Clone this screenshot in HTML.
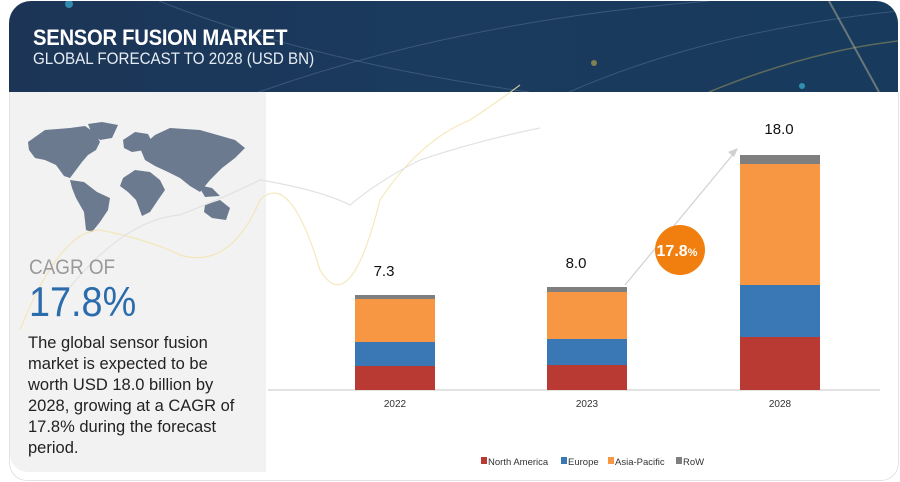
<!DOCTYPE html>
<html><head><meta charset="utf-8"><style>
body{margin:0;width:900px;height:482px;background:#fff;position:relative;overflow:hidden;font-family:"Liberation Sans",sans-serif}
.a{position:absolute}
</style></head><body>
<div class="a" style="left:9px;top:1px;width:889px;height:91px;border-radius:22px 22px 0 0;background:linear-gradient(90deg,#1c3556 0%,#1a3a5e 45%,#183a5c 100%);overflow:hidden">
<svg width="889" height="91" style="position:absolute;left:0;top:0">
<path d="M150 0 Q300 60 520 91" stroke="#5c7896" stroke-width="1" fill="none" opacity=".5"/>
<path d="M250 91 Q450 20 700 0" stroke="#6d88a4" stroke-width="1" fill="none" opacity=".4"/>
<path d="M560 91 Q700 30 889 10" stroke="#6d88a4" stroke-width="1" fill="none" opacity=".4"/>
<path d="M820 0 L870 91" stroke="#b6b49a" stroke-width="2" opacity=".5"/>
<path d="M700 91 Q800 50 889 40" stroke="#c8b560" stroke-width="1.5" fill="none" opacity=".4"/>
<circle cx="60" cy="3" r="4" fill="#3fc6e8" opacity=".6"/>
<circle cx="585" cy="62" r="3" fill="#e5c84a" opacity=".5"/>
<circle cx="793" cy="85" r="3" fill="#3fc6e8" opacity=".6"/>
</svg>
<div class="a" style="left:24px;top:24px;color:#fff;font-size:22px;font-weight:bold;letter-spacing:-0.3px;transform:scaleX(.92);transform-origin:left">SENSOR FUSION MARKET</div>
<div class="a" style="left:24px;top:49px;color:#e6ecf3;font-size:16.5px;transform:scaleX(.92);transform-origin:left">GLOBAL FORECAST TO 2028 (USD BN)</div>
</div>
<div class="a" style="left:9px;top:92px;width:888px;height:388px;border:1px solid #e3e3e3;border-top:none;border-radius:0 0 18px 18px"></div>
<div class="a" style="left:10px;top:92px;width:256px;height:380px;background:#f2f2f2;border-radius:0 0 0 18px"></div>
<svg class="a" style="left:0;top:0" width="900" height="482">
<g fill="#6b7a8f">
<path d="M28 142 L45 130 L70 128 L85 126 L95 133 L100 142 L96 150 L88 155 L82 162 L76 170 L70 178 L64 176 L56 165 L45 160 L35 158 L29 150Z"/>
<path d="M88 124 L102 122 L118 125 L112 138 L100 140 L92 134Z"/>
<path d="M70 180 L84 182 L97 192 L110 198 L108 210 L100 222 L92 232 L86 230 L84 212 L76 198 L72 188Z"/>
<path d="M123 140 L135 132 L148 134 L152 142 L145 150 L132 152 L124 148Z"/>
<path d="M123 178 L135 170 L150 172 L160 180 L165 190 L158 200 L150 212 L142 216 L136 200 L128 192 L120 186Z"/>
<path d="M140 148 L155 135 L170 128 L200 130 L235 140 L245 148 L235 158 L222 168 L210 180 L200 192 L190 186 L180 178 L168 172 L155 166 L145 160Z"/>
<path d="M205 205 L220 200 L230 208 L226 220 L212 218 L204 212Z"/>
<path d="M198 185 L212 188 L220 196 L205 197Z"/>
</g>
<path d="M20 330 Q60 230 100 230 Q150 240 180 255 Q230 270 260 200 Q290 170 320 270 Q350 320 380 200 Q420 140 470 120 Q500 100 520 85" stroke="#f2e2aa" stroke-width="1.2" fill="none" opacity=".8"/>
<path d="M60 300 Q120 220 180 215 Q230 195 260 180 Q320 190 350 205 Q380 180 420 160 Q480 140 540 128" stroke="#e2e2e2" stroke-width="1.2" fill="none"/>
<line x1="268" y1="390" x2="880" y2="390" stroke="#d9d9d9" stroke-width="1.5"/>
<rect x="355" y="366" width="80" height="24" fill="#b83a33"/>
<rect x="355" y="342" width="80" height="24" fill="#3a78b5"/>
<rect x="355" y="299" width="80" height="43" fill="#f79744"/>
<rect x="355" y="295" width="80" height="4" fill="#7f7f7f"/>
<rect x="547" y="365" width="80" height="25" fill="#b83a33"/>
<rect x="547" y="339" width="80" height="26" fill="#3a78b5"/>
<rect x="547" y="292" width="80" height="47" fill="#f79744"/>
<rect x="547" y="287" width="80" height="5" fill="#7f7f7f"/>
<rect x="740" y="337" width="80" height="53" fill="#b83a33"/>
<rect x="740" y="285" width="80" height="52" fill="#3a78b5"/>
<rect x="740" y="164" width="80" height="121" fill="#f79744"/>
<rect x="740" y="155" width="80" height="9" fill="#7f7f7f"/>
<line x1="625" y1="285" x2="735" y2="152" stroke="#d0d0d0" stroke-width="1.2"/>
<path d="M738 148 L728 152 L734 157Z" fill="#d0d0d0"/>
<circle cx="680" cy="250" r="25" fill="#f07f0f"/>
<text x="677" y="256" text-anchor="middle" fill="#fff" font-size="16" font-weight="bold">17.8<tspan font-size="11">%</tspan></text>
<g font-size="15" fill="#111" text-anchor="middle"><text x="384" y="276">7.3</text><text x="576" y="268">8.0</text><text x="779" y="134">18.0</text></g>
<g font-size="10" fill="#333" text-anchor="middle"><text x="395" y="407">2022</text><text x="587" y="407">2023</text><text x="780" y="407">2028</text></g>
<g font-size="9.5" fill="#333">
<rect x="481" y="457" width="6" height="7" fill="#b83a33"/><text x="488" y="465">North America</text>
<rect x="561" y="457" width="6" height="7" fill="#3a78b5"/><text x="568" y="465">Europe</text>
<rect x="608" y="457" width="6" height="7" fill="#f79744"/><text x="615" y="465">Asia-Pacific</text>
<rect x="676" y="457" width="6" height="7" fill="#7f7f7f"/><text x="683" y="465">RoW</text>
</g>
</svg>
<div class="a" style="left:29px;top:256px;color:#9a9a9a;font-size:21px;transform:scaleX(.9);transform-origin:left">CAGR OF</div>
<div class="a" style="left:29px;top:278px;color:#2b6cad;font-size:42px;transform:scaleX(.9);transform-origin:left">17.8%</div>
<div class="a" style="left:28px;top:333px;width:220px;color:#222;font-size:16.5px;line-height:21px">The global sensor fusion market is expected to be worth USD 18.0 billion by 2028, growing at a CAGR of 17.8% during the forecast period.</div>
</body></html>
